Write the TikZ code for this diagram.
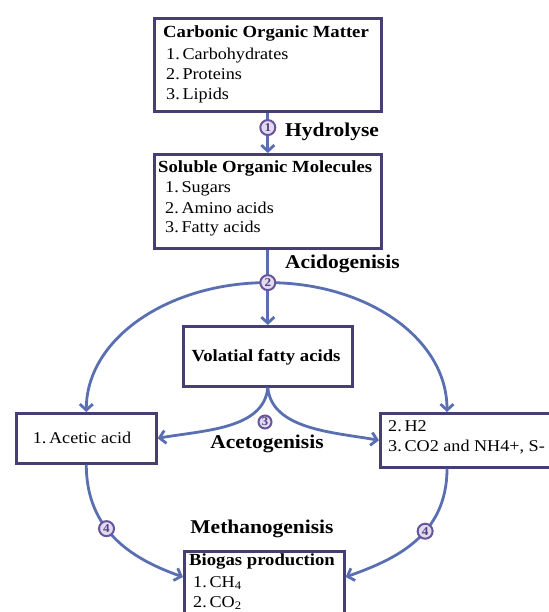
\documentclass[tikz,border=0pt]{standalone}
\usepackage{fontspec}
\setmainfont{Liberation Serif}[FakeStretch=1.1]
\usetikzlibrary{arrows.meta}
\definecolor{boxc}{HTML}{463F73}
\definecolor{arrc}{HTML}{5A6FB2}
\definecolor{numc}{HTML}{66559A}
\definecolor{numfill}{HTML}{E2DAF0}
\begin{document}
\begin{tikzpicture}[x=1pt,y=-1pt,
  box/.style={draw=boxc, line width=2.6pt, fill=white, inner sep=0pt, anchor=north west},
  itm/.style={font=\fontsize{16.5}{20}\selectfont, inner sep=0pt, anchor=base west},
  hd/.style={font=\fontsize{17}{20}\selectfont\bfseries, inner sep=0pt, anchor=base west},
  stage/.style={font=\fontsize{19.5}{22}\selectfont\bfseries, inner sep=0pt},
  flow/.style={draw=arrc, line width=2.8pt, -{Straight Barb[length=6pt,width=13pt]}},
  link/.style={draw=arrc, line width=2.8pt},
  num/.style={circle, draw=numc, line width=2pt, fill=numfill, inner sep=0pt,
    minimum size=15pt, font=\fontsize{12}{12}\selectfont\bfseries, text=numc!80!black}
]
\useasboundingbox (0,0) rectangle (548,612);

% boxes
\node[box, minimum width=227pt, minimum height=93pt] (b1) at (153,17) {};
\node[box, minimum width=227pt, minimum height=94pt] (b2) at (153,153) {};
\node[box, minimum width=169pt, minimum height=60pt] (vfa) at (182,325) {};
\node[box, minimum width=140pt, minimum height=50pt] (aa) at (15,412) {};
\node[box, minimum width=200pt, minimum height=54pt] (rb) at (379,412) {};
\node[box, minimum width=160pt, minimum height=80pt] (bg) at (183,550) {};

% box texts
\node[hd] (t1) at (163,38) {Carbonic Organic Matter};
\node[itm] (t1a) at (166,60) {1.\,Carbohydrates};
\node[itm] (t1b) at (166,80) {2.\,Proteins};
\node[itm] (t1c) at (166,100) {3.\,Lipids};

\node[hd] (t2) at (158,173) {Soluble Organic Molecules};
\node[itm] (t2a) at (165,193) {1.\,Sugars};
\node[itm] (t2b) at (165,213) {2.\,Amino acids};
\node[itm] (t2c) at (165,233) {3.\,Fatty acids};

\node[hd, anchor=base] (t3) at (266,361) {Volatial fatty acids};
\node[itm, anchor=base] (t4) at (82,443) {1.\,Acetic acid};
\node[itm] (t5a) at (388,431) {2.\,H2};
\node[itm] (t5b) at (388,451) {3.\,CO2 and NH4+, S-};

\node[hd] (t6) at (189,565) {Biogas production};
\node[itm] (t6a) at (193,587) {1.\,CH\textsubscript{4}};
\node[itm] (t6b) at (193,607) {2.\,CO\textsubscript{2}};

% stage labels
\node[stage, anchor=base west] (s1) at (285,137) {Hydrolyse};
\node[stage, anchor=base west] (s2) at (285,268) {Acidogenisis};
\node[stage, anchor=base] (s3) at (267,448) {Acetogenisis};
\node[stage, anchor=base] (s4) at (262,533) {Methanogenisis};

% helper coordinates
\coordinate (p2) at ([yshift=-33pt]b2.south);
\coordinate (rtop) at ([xshift=68pt]rb.north west);
\coordinate (rbot) at ([xshift=68pt]rb.south west);
\coordinate (bgl) at ([yshift=-27pt]bg.north west);
\coordinate (bgr) at ([yshift=-27pt]bg.north east);

% connectors
\draw[flow] (b1.south) -- node[num, pos=0.37] (c1) {1} (b2.north);
\draw[link] (b2.south) -- (p2);
\draw[flow] (p2) -- (vfa.north);
\draw[flow] (p2) .. controls +(-100,0) and +(0,-73) .. (aa.north);
\draw[flow] (p2) .. controls +(100,0) and +(0,-73) .. (rtop);
\draw[flow] (vfa.south) .. controls +(-4,42) and +(45,-8) .. (aa.east);
\draw[flow] (vfa.south) .. controls +(4,42) and +(-45,-8) .. (rb.west);
\draw[flow] (aa.south) .. controls +(0,68) and +(-48,-17) .. node[num, pos=0.4] (c4a) {4} (bgl);
\draw[flow] (rbot) .. controls +(0,68) and +(48,-17) .. node[num, pos=0.4] (c4b) {4} (bgr);

\node[num] (c2) at (p2) {2};
\node[num, minimum size=13pt] (c3) at (265,422) {3};
\end{tikzpicture}
\end{document}
